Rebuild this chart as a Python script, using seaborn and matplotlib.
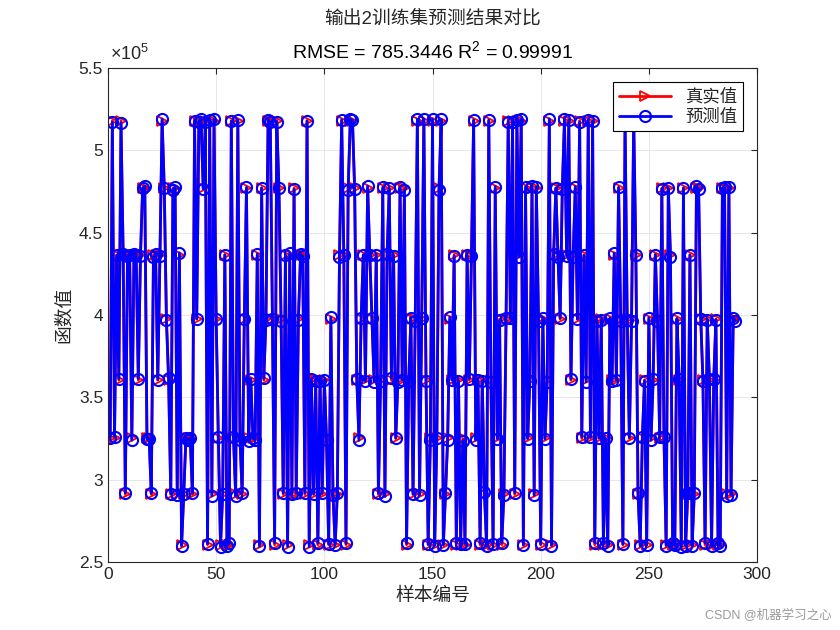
import numpy as np
import seaborn as sns
import matplotlib
matplotlib.use("Agg")
import matplotlib.pyplot as plt
from matplotlib.ticker import FuncFormatter

# Distinct output levels seen in the training set
levels = [260500, 291000, 325000, 360500, 397500, 436500, 477000, 518000]

# Level index of each sample (samples 1..290)
codes_1 = [2, 7, 2, 5, 3, 7, 5, 1, 5, 5, 2, 5, 5, 3, 5, 6, 6, 2, 2, 1,
           5, 5, 3, 5, 7, 6, 4, 3, 1, 6, 6, 1, 5, 0, 1, 2, 2]
codes_2 = [2, 1, 7, 4, 7, 7, 6, 7, 0, 7, 1, 7, 4, 2, 0, 1, 5, 0, 0, 7,
           2, 1, 7, 2, 1, 4, 6, 2, 3, 2, 2, 5, 0, 6, 3, 4, 7]
codes_3 = [7, 4, 0, 7, 6, 4, 1, 5, 0, 5, 1, 6, 1, 4, 5, 5, 1, 7, 0, 3,
           1, 3, 0, 3, 1, 3, 2, 0, 4, 1, 0, 1, 5, 7, 5, 0, 6]
codes_4 = [7, 7, 6, 3, 2, 4, 5, 3, 6, 5, 4, 3, 5, 1, 3, 6, 1, 5, 6, 3,
           5, 2, 3, 6, 3, 6, 0, 3, 4, 1, 4, 7, 1, 4, 7, 3, 0]
codes_5 = [2, 7, 0, 2, 6, 7, 0, 1, 2, 4, 3, 5, 0, 3, 0, 2, 0, 5, 3, 5,
           7, 2, 3, 0, 3, 1, 0, 7, 3, 0, 6, 2, 4, 0, 1, 4, 7]
codes_6 = [4, 7, 1, 7, 5, 7, 0, 6, 2, 3, 6, 1, 6, 4, 0, 4, 2, 3, 7, 0,
           5, 6, 5, 4, 6, 7, 5, 7, 3, 5, 6, 4, 7, 2, 5, 3, 7]
codes_7 = [2, 7, 0, 4, 2, 4, 0, 2, 0, 4, 3, 5, 3, 6, 4, 0, 7, 4, 2, 4,
           7, 5, 1, 0, 2, 3, 0, 4, 2, 3, 5, 4, 2, 6, 2, 0, 6]
codes_8 = [5, 0, 0, 4, 3, 0, 6, 0, 1, 5, 0, 1, 6, 6, 4, 3, 0, 4, 3, 0,
           3, 4, 0, 0, 6, 6, 1, 6, 1, 4, 4]

# Prediction error of each sample (small, RMSE ~ 785)
pred_err = [
    420, -880, 1130, -260, 710, -1240, 390, 950, -570, 180, -1020, 640, -330, 870, -710, 240, 1180, -460, -90, 760,
    -1310, 520, 300, -840, 990, -150, -620, 1070, 410, -930, 680, -240, 1260, -780, 90, 560, -1100, 330, 870, -450,
    170, -690, 1340, -380, -1020, 610, 240, -870, 940, -120, 710, -1190, 450, 80, -560, 1030, -300, 820, -980, 360,
    -640, 1150, -210, 470, -1270, 830, 120, -750, 590, -1040, 280, 990, -430, 660, -870, 150, 1210, -510, 340, -960,
    730, -280, -1120, 880, 190, -640, 1050, -370, 520, -810, 940, -160, -1230, 610, 270, -700, 1090, -420, 800, -150,
    -980, 360, 1180, -540, 70, 920, -1300, 480, -260, 770, -890, 1020, 210, -620, 850, -1140, 390, 130, -770, 1250,
    -350, 680, -1010, 240, 910, -480, 590, -1190, 820, -60, 1100, -720, 300, -930, 570, 160, -1280, 740, -410, 960,
    230, -1060, 870, -310, 620, 1210, -690, 140, -880, 1010, -520, 380, -1170, 790, -240, 650, -960, 1130, 60, -600,
    1040, -430, 280, -1250, 710, -90, 930, -620, 470, -1080, 190, 860, -370, 1190, -740, 320, -1020, 560, 900, -280,
    -830, 1280, -170, 640, -990, 410, -560, 1070, 250, -1210, 780, -340, 960, -110, -670, 1140, -460, 720, -1050, 390,
    610, -200, -940, 1170, -530, 830, 110, -1160, 690, -380, 1020, -790, 260, 540, -1290, 880, -60, -720, 1000, -310,
    -1100, 460, 770, -240, 1230, -860, 350, -580, 940, 30, -1010, 670, -430, 1110, -190, 580, -910, 290, 1060, -650,
    340, -1180, 920, -70, 610, -820, 1200, -390, -150, 870, -1070, 500, 230, -960, 1080, -320, 740, -600, 180, -1240,
    1010, -470, 390, 820, -1130, 260, -700, 1160, -30, -890, 650, 1240, -510, 130, -780, 970, -260, 450, -1060, 700,
    -380, 1090, -810, 200, 560, -1200, 880, -140, 630, -920,
]

codes = codes_1 + codes_2 + codes_3 + codes_4 + codes_5 + codes_6 + codes_7 + codes_8
true_vals = [levels[c] for c in codes]
pred_vals = [t + e for t, e in zip(true_vals, pred_err)]
sample_idx = np.arange(1, len(true_vals) + 1)

sns.set_style("white")
plt.rcParams['font.family'] = ['Liberation Sans', 'Noto Sans CJK SC']
plt.rcParams['mathtext.fontset'] = 'custom'
plt.rcParams['mathtext.rm'] = 'Liberation Sans'
plt.rcParams['mathtext.it'] = 'Liberation Sans'

fig = plt.figure(figsize=(8.4, 6.3), dpi=100)
ax = fig.add_axes([0.1286, 0.108, 0.7726, 0.784])

sns.lineplot(x=sample_idx, y=true_vals, ax=ax, color='red', linewidth=2.0,
             marker='>', markersize=7, markerfacecolor='none',
             markeredgecolor='red', markeredgewidth=1.3, label='真实值')
sns.lineplot(x=sample_idx, y=pred_vals, ax=ax, color='blue', linewidth=2.0,
             marker='o', markersize=8, markerfacecolor='none',
             markeredgecolor='blue', markeredgewidth=1.5, label='预测值')

ax.set_xlim(0, 300)
ax.set_ylim(2.5e5, 5.5e5)
ax.set_xticks(range(0, 301, 50))
ax.set_yticks(np.arange(2.5e5, 5.51e5, 0.5e5))
ax.yaxis.set_major_formatter(FuncFormatter(lambda v, p: f"{v / 1e5:g}"))
ax.tick_params(direction='in', top=True, right=True, labelsize=12.5,
               length=4, width=0.8, colors='#262626')
ax.grid(True, color='#e3e3e3', linewidth=0.6)
for sp in ax.spines.values():
    sp.set_color('#262626')
    sp.set_linewidth(0.8)

ax.text(0.003, 1.008, r'$\times 10^5$', transform=ax.transAxes,
        fontsize=13, ha='left', va='bottom', color='#262626')

# Titles and labels
fig.text(0.515, 1 - 19 / 630, '输出2训练集预测结果对比', ha='center', va='center',
         fontsize=13.5, color='#262626')
ax.set_title('RMSE = 785.3446 R$^2$ = 0.99991', fontsize=14, pad=7, color='black')
ax.set_xlabel('样本编号', fontsize=13.5, color='#262626')
ax.set_ylabel('函数值', fontsize=13.5, color='#262626')

leg = ax.legend(loc='upper right', fontsize=12.5, frameon=True, fancybox=False,
                edgecolor='black', framealpha=1, handlelength=3.0,
                borderaxespad=0.8, borderpad=0.35, labelspacing=0.25)
leg.get_frame().set_linewidth(0.8)

fig.text(0.99, 0.025, 'CSDN @机器学习之心', ha='right', va='center',
         fontsize=9, color='#9a9a9a')

fig.savefig('out.png', dpi=100)
